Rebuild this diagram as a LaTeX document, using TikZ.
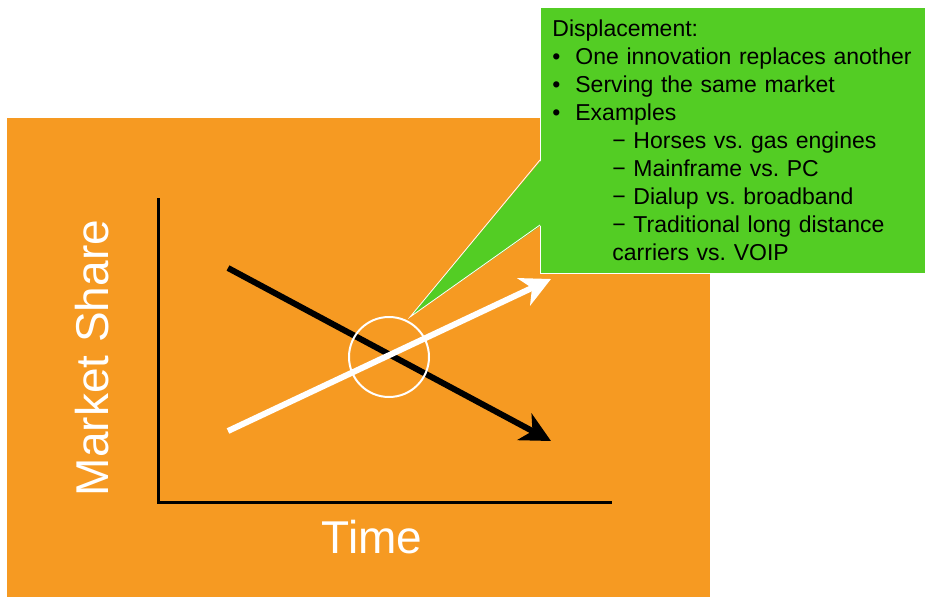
\documentclass[tikz,border=0pt]{standalone}
\usepackage{fontspec}
\setmainfont{Liberation Sans}
\usetikzlibrary{arrows.meta, positioning}
\definecolor{dsOrange}{HTML}{F69A22}
\definecolor{dsGreen}{HTML}{53CD24}
\tikzset{
  dsaxis/.style={line width=3pt, black, line cap=rect},
  dstrend/.style={line width=6pt, -{Stealth[length=30pt, width=30pt, inset=9pt]}},
  dslabel/.style={text=white, font=\fontsize{46}{50}\selectfont, inner sep=0pt},
}
\frenchspacing
\begin{document}
\begin{tikzpicture}[x=1pt, y=-1pt,
  note/.style={rectangle, draw=white, line width=0.8pt, fill=dsGreen, anchor=north west,
               align=left, text width=361pt, minimum width=385pt, minimum height=262pt,
               inner xsep=12pt, inner ysep=12.5pt, font=\fontsize{23}{28}\selectfont}]
  \useasboundingbox (0,0) rectangle (926,597);
  \fill[dsOrange] (7,118) rectangle (710,597);
  % axes
  \coordinate (origin) at (158,502);
  \coordinate (ytop) at (158,199);
  \coordinate (xend) at (610,502);
  \draw[dsaxis] (ytop) -- (origin) -- (xend);
  \node[dslabel, rotate=90] (ylabel) at (92,358) {Market Share};
  \node[dslabel] (xlabel) at (372,537) {Time};
  % old and new
  \coordinate (oldA) at (228,268);
  \coordinate (oldB) at (551,441);
  \coordinate (newA) at (228,431);
  \coordinate (newB) at (551,279);
  \draw[dstrend, black] (oldA) -- (oldB);
  \draw[dstrend, white] (newA) -- (newB);
  \node[circle, draw=white, line width=2pt, minimum size=80pt, inner sep=0pt] (cross) at (389,357) {};
  % callout
  \node[note] (info) at (540,7) {Displacement:\\
    \makebox[23pt][l]{•}One innovation replaces another\\
    \makebox[23pt][l]{•}Serving the same market\\
    \makebox[23pt][l]{•}Examples\\
    \hspace*{60pt}−\ Horses vs. gas engines\\
    \hspace*{60pt}−\ Mainframe vs. PC\\
    \hspace*{60pt}−\ Dialup vs. broadband\\
    \hspace*{60pt}−\ Traditional long distance\\
    \hspace*{60pt}carriers vs. VOIP};
  \coordinate (wedgeA) at (540,160);
  \coordinate (wedgeB) at (540,225);
  \coordinate (tip) at (410,317);
  \fill[dsGreen] ([xshift=1.5pt]wedgeA) -- (tip) -- ([xshift=1.5pt]wedgeB) -- cycle;
  \draw[white, line width=0.8pt] (wedgeA) -- (tip) -- (wedgeB);
\end{tikzpicture}
\end{document}
